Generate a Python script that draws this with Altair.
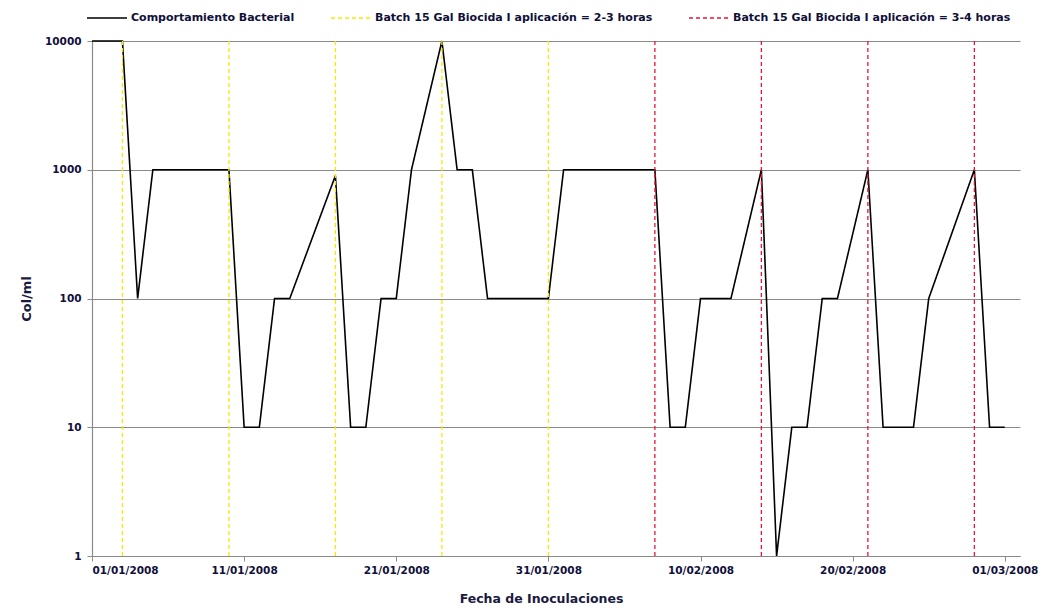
import altair as alt
import pandas as pd

# Serie principal (Comportamiento Bacterial)
fechas = ["2008-01-01", "2008-01-03", "2008-01-04", "2008-01-05", "2008-01-10",
          "2008-01-11", "2008-01-12", "2008-01-13", "2008-01-14", "2008-01-17",
          "2008-01-18", "2008-01-19", "2008-01-20", "2008-01-21", "2008-01-22",
          "2008-01-24", "2008-01-25", "2008-01-26", "2008-01-27", "2008-01-31",
          "2008-02-01", "2008-02-07", "2008-02-08", "2008-02-09", "2008-02-10",
          "2008-02-12", "2008-02-14", "2008-02-15", "2008-02-16", "2008-02-17",
          "2008-02-18", "2008-02-19", "2008-02-21", "2008-02-22", "2008-02-24",
          "2008-02-25", "2008-02-28", "2008-02-29", "2008-03-01"]
col_ml = [10000, 10000, 100, 1000, 1000,
          10, 10, 100, 100, 900,
          10, 10, 100, 100, 1000,
          10000, 1000, 1000, 100, 100,
          1000, 1000, 10, 10, 100,
          100, 1000, 1, 10, 10,
          100, 100, 1000, 10, 10,
          100, 1000, 10, 10]

# Aplicaciones de biocida
batch_23h = ["2008-01-03", "2008-01-10", "2008-01-17", "2008-01-24", "2008-01-31"]
batch_34h = ["2008-02-07", "2008-02-14", "2008-02-21", "2008-02-28"]

series = ["Comportamiento Bacterial",
          "Batch 15 Gal Biocida I aplicación = 2-3 horas",
          "Batch 15 Gal Biocida I aplicación = 3-4 horas"]
colores = ["#000000", "#F7EA00", "#EE1133"]

tick_fechas = ["2008-01-01", "2008-01-11", "2008-01-21", "2008-01-31",
               "2008-02-10", "2008-02-20", "2008-03-01"]
dominio_x = ["2008-01-01", "2008-03-02"]
y_ticks = [1, 10, 100, 1000, 10000]


def dt(s):
    y, m, d = (int(v) for v in s.split("-"))
    return alt.DateTime(year=y, month=m, date=d, utc=True)


df_line = pd.DataFrame({"fecha": fechas, "valor": col_ml, "serie": series[0]})
df_rules = pd.DataFrame({
    "fecha": batch_23h + batch_34h,
    "serie": [series[1]] * len(batch_23h) + [series[2]] * len(batch_34h),
})

FONT = "DejaVu Sans"

x_enc = alt.X(
    "fecha:T",
    scale=alt.Scale(type="utc", domain=[dt(s) for s in dominio_x], nice=False),
    axis=alt.Axis(
        title="Fecha de Inoculaciones",
        values=[dt(s) for s in tick_fechas],
        format="%d/%m/%Y",
        formatType="time",
        grid=False,
        tickSize=5,
        labelPadding=4,
        titlePadding=17,
        titleFontSize=12.5,
        titleX=449,
    ),
)

legend_cfg = dict(
    title=None,
    orient="none",
    legendX=-6,
    legendY=-44,
    direction="horizontal",
    symbolType="stroke",
    symbolSize=1600,
    symbolStrokeWidth=1.5,
    columnPadding=33,
    labelOffset=3,
    labelFont=FONT,
    labelFontSize=11,
    labelFontWeight="bold",
    labelColor="#10103a",
    labelLimit=400,
    padding=0,
)

color_enc = alt.Color(
    "serie:N",
    scale=alt.Scale(domain=series, range=colores),
    legend=alt.Legend(**legend_cfg),
)
dash_enc = alt.StrokeDash(
    "serie:N",
    scale=alt.Scale(domain=series, range=[[1, 0], [4, 3], [4, 3]]),
    legend=alt.Legend(**legend_cfg),
)

line = alt.Chart(df_line).mark_line(strokeWidth=1.6).encode(
    x=x_enc,
    y=alt.Y(
        "valor:Q",
        scale=alt.Scale(type="log", domain=[1, 10000], nice=False),
        axis=alt.Axis(
            title="Col/ml",
            values=y_ticks,
            format="d",
            grid=True,
            tickSize=5,
            labelPadding=6,
            titlePadding=11,
        ),
    ),
    color=color_enc,
    strokeDash=dash_enc,
)

rules = alt.Chart(df_rules).mark_rule(strokeWidth=1.3).encode(
    x=x_enc,
    color=color_enc,
    strokeDash=dash_enc,
)

chart = (
    alt.layer(line, rules)
    .properties(
        width=928,
        height=515,
        autosize=alt.AutoSizeParams(type="none"),
        padding={"left": 84, "top": 33, "right": 24, "bottom": 50},
        background="white",
    )
    .configure_view(stroke=None)
    .configure_axis(
        labelFont=FONT,
        labelFontSize=10.5,
        labelFontWeight="bold",
        labelColor="#10103a",
        titleFont=FONT,
        titleFontSize=13,
        titleFontWeight="bold",
        titleColor="#1a1a40",
        domainColor="#8a8a8a",
        tickColor="#8a8a8a",
        gridColor="#8a8a8a",
        gridWidth=1,
        domainWidth=1.2,
    )
)

chart.save("out.html", embed_options={"renderer": "svg", "actions": False})
